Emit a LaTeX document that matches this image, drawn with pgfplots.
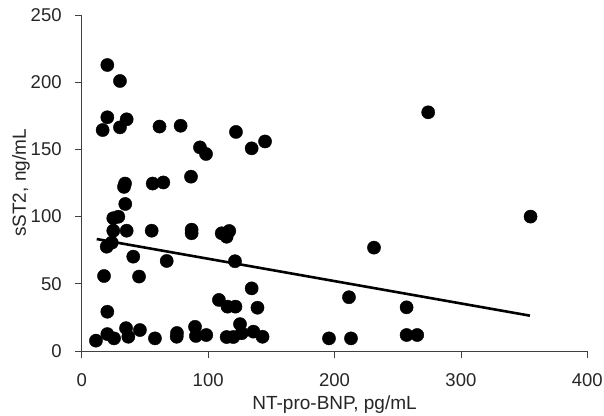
\documentclass[border=0pt]{standalone}
\usepackage{pgfplots}
\pgfplotsset{compat=1.18}
\usetikzlibrary{calc}
\usepackage{fontspec}
\setmainfont{Liberation Sans}
\begin{document}
\begin{tikzpicture}
\begin{axis}[
  scale only axis,
  width=505.5pt, height=336pt,
  xmin=0, xmax=400, ymin=0, ymax=250,
  axis lines=left,
  axis line style={-, black!75, line width=0.8pt},
  xtick={0,100,...,400}, ytick={0,50,...,250},
  tick align=outside,
  major tick length=7pt,
  tick style={black!75, line width=0.8pt},
  /pgf/number format/assume math mode=true,
  ticklabel style={font=\fontsize{18.5}{22}\selectfont, text=black!85},
  yticklabel style={anchor=east, inner sep=0pt, xshift=-13pt},
  xticklabel style={anchor=north, inner sep=0pt, yshift=-15pt},
  xlabel={NT-pro-BNP, pg/mL},
  ylabel={sST2, ng/mL},
  label style={font=\fontsize{19}{22}\selectfont, text=black!85},
  xlabel style={at={(axis description cs:0.5,-0.1726)}, anchor=base, inner sep=0pt},
  ylabel style={at={(axis description cs:-0.1385,0.5)}, anchor=north, inner sep=0pt},
  clip=false,
]
\addplot[only marks, mark=*, mark size=6.6pt, mark options={fill=black, draw=black}] coordinates {
(20.2,212.8) (30.2,200.9) (16.5,164.4) (20.2,173.9) (30.2,166.4) (35.5,172.4)
(61.5,167) (78.2,167.6) (93.5,151.5) (98.3,146.6) (122,163) (134.4,150.8) (145,155.9)
(86.4,129.7) (34.2,124.6) (33.4,122.1) (56.1,124.6) (64.5,125.4) (34.4,109.4)
(24.9,98.8) (28.9,99.9) (24.9,89.5) (35.5,89.5) (55.3,89.5) (86.9,87.6) (86.9,90.3)
(110.7,87.6) (116.7,89.3) (114.6,85) (19.7,77.6) (23.7,80.6) (40.7,70.2) (67.2,67)
(17.6,55.8) (45.3,55.4) (20.2,29.2) (11.2,7.7) (20.2,12.6) (25.5,9.4) (35,17)
(36.8,10.6) (46,15.6) (57.9,9.4) (75.1,10.6) (75.3,13.4) (89.6,18) (90.3,11.2)
(98.5,11.9) (121.2,66.8) (134.4,46.6) (108.5,38) (115.3,33) (121.6,33) (139,32.2)
(125.2,20) (114.6,10.4) (119.9,10.4) (126.5,13.2) (135.8,14.4) (143,10.6)
(274.1,177.6) (355.1,100) (231.2,76.9) (211.4,40) (257,32.5) (195.6,9.4) (213,9.4)
(257,11.9) (265.4,11.9)
};
\addplot[black, line width=2.6pt] coordinates {(11.8,83.3) (354.6,26.3)};
\end{axis}
\pgfresetboundingbox
\path[use as bounding box] ($(current axis.south west)+(-81.8pt,-64pt)$) rectangle ($(current axis.north east)+(16.7pt,15pt)$);
\end{tikzpicture}
\end{document}
